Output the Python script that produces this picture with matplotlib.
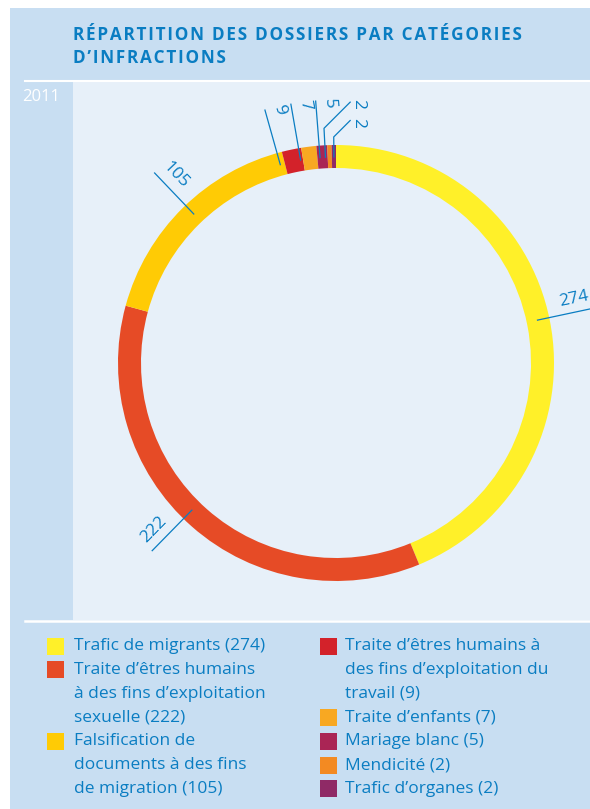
import matplotlib
matplotlib.use("Agg")
import matplotlib.pyplot as plt
from matplotlib.patches import Rectangle
import numpy as np

plt.rcParams['font.family'] = ['Open Sans', 'DejaVu Sans']

# Données
categories = [
    "Trafic de migrants",
    "Traite d’êtres humains\nà des fins d’exploitation\nsexuelle",
    "Falsification de\ndocuments à des fins\nde migration",
    "Traite d’êtres humains à\ndes fins d’exploitation du\ntravail",
    "Traite d’enfants",
    "Mariage blanc",
    "Mendicité",
    "Trafic d’organes",
]
values = [274, 222, 105, 9, 7, 5, 2, 2]
colors = ['#FFF029', '#E64B26', '#FFCB05', '#D3222A', '#F8A822', '#AA2555', '#F38A22', '#8F2A66']
legend_col = [0, 0, 0, 1, 1, 1, 1, 1]
year = "2011"
title_lines = ["RÉPARTITION DES DOSSIERS PAR CATÉGORIES", "D’INFRACTIONS"]

# décalage angulaire des étiquettes (pour écarter les petites valeurs)
label_shift = [0.8, -3.0, -0.9, 3.9, 2.7, 0.7, 1.2, 0.0]

PANEL = '#C8DEF2'
AREA = '#E7F0F9'
BLUE = '#0A7DC2'

W, H = 590, 809
fig = plt.figure(figsize=(W / 100, H / 100), dpi=100)
fig.patch.set_facecolor('white')

# fond (coordonnées en pixels)
bg = fig.add_axes([0, 0, 1, 1])
bg.set_xlim(0, W)
bg.set_ylim(H, 0)
bg.axis('off')
bg.add_patch(Rectangle((10, 8), W - 10, H - 8, color=PANEL, lw=0))
bg.add_patch(Rectangle((73, 82), W - 73, 538, color=AREA, lw=0))
bg.plot([25, W], [81, 81], color='white', lw=1.5)
bg.plot([25, W], [620.5, 620.5], color='white', lw=1.8)

# titre avec un léger interlettrage
for i, line in enumerate(title_lines):
    spaced = "\u200a".join(line)
    bg.text(73, 35 + 23 * i, spaced, color=BLUE, fontsize=12.3, fontweight='bold',
            va='center', ha='left')
bg.text(22, 97, year, color='white', fontsize=12, va='center', ha='left')

# anneau
cx, cy, R = 336, 363, 218
ax = fig.add_axes([73 / W, 1 - 620 / H, (W - 73) / W, (620 - 82) / H])
wedges, _ = ax.pie(values, colors=colors, startangle=90, counterclock=False,
                   radius=1, wedgeprops=dict(width=23 / R, linewidth=0))
ax.set_aspect('auto')
ax.set_xlim((73 - cx) / R, (W - cx) / R)
ax.set_ylim((cy - 620) / R, (cy - 82) / R)
ax.axis('off')

for i, (w, v) in enumerate(zip(wedges, values)):
    a = np.deg2rad((w.theta1 + w.theta2) / 2 + label_shift[i])
    u = np.array([np.cos(a), np.sin(a)])
    p0 = u * 0.945
    if i >= len(values) - 2:
        # deux petites valeurs: trait coudé
        rb = 1.078 if i == len(values) - 2 else 1.037
        pb = u * rb
        pe = pb + (0.065 - pb[0]) * np.array([1, 1])
        ax.plot([p0[0], pb[0], pe[0]], [p0[1], pb[1], pe[1]], color=BLUE, lw=0.9)
        ax.text(pe[0] + 0.035, pe[1] - 0.01, str(v), color=BLUE, fontsize=12.5,
                rotation=-90, ha='center', va='center')
        continue
    p1 = u * 1.205
    ax.plot([p0[0], p1[0]], [p0[1], p1[1]], color=BLUE, lw=0.9)
    rot = np.rad2deg(a)
    rot = (rot + 180) % 360 - 180
    if rot > 90:
        rot -= 180
    elif rot < -90:
        rot += 180
    r_up = np.deg2rad(rot)
    up = np.array([-np.sin(r_up), np.cos(r_up)])
    rt = 1.13 if v > 50 else 1.19
    pt = u * rt + up * 0.062
    ax.text(pt[0], pt[1], str(v), color=BLUE, fontsize=12.5, rotation=rot,
            rotation_mode='anchor', ha='center', va='center')

# légende
col_x = [(47, 74), (320, 345)]
row_y0, row_dy = 646, 23.8
rows = [0, 0]
for name, v, c, col in zip(categories, values, colors, legend_col):
    lines = f"{name} ({v})".split("\n")
    sx, tx = col_x[col]
    y = row_y0 + rows[col] * row_dy
    bg.add_patch(Rectangle((sx, y - 8.5), 17, 17, color=c, lw=0))
    for j, line in enumerate(lines):
        bg.text(tx, y + j * row_dy, line, color=BLUE, fontsize=12.5,
                ha='left', va='center')
    rows[col] += len(lines)

fig.savefig('out.png', dpi=100)
